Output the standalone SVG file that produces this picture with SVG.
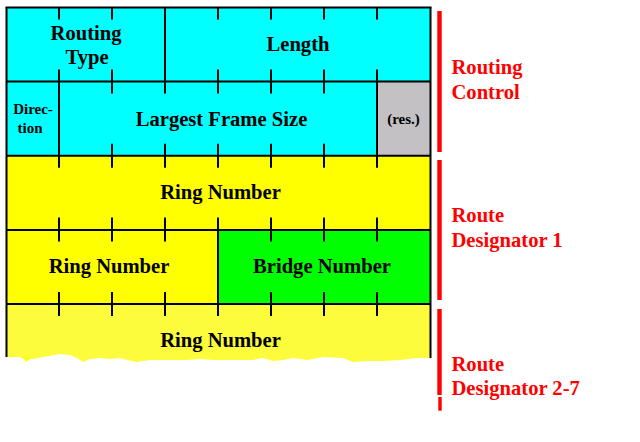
<svg xmlns="http://www.w3.org/2000/svg" width="640" height="442" viewBox="0 0 640 442">
<style>
.t{font-family:"Liberation Serif","Times New Roman",serif;font-weight:bold;font-size:20.6px;fill:#000;text-anchor:middle}
.s{font-size:15px}
.r{fill:#ff0000;text-anchor:start}
.ln{stroke:#000;stroke-width:2;fill:none}
.bar{fill:#ff0000}
</style>
<rect width="640" height="442" fill="#ffffff"/>
<g id="routing-type"><rect x="6.5" y="7.5" width="158.5" height="74" fill="#00ffff"/><text class="t" x="86" y="39.5">Routing</text><text class="t" x="87" y="64.3">Type</text></g>
<g id="length"><rect x="165" y="7.5" width="265.5" height="74" fill="#00ffff"/><text class="t" x="298" y="51">Length</text></g>
<g id="direction"><rect x="6.5" y="81.5" width="52.5" height="74.2" fill="#00ffff"/><text class="t s" x="33" y="114.3">Direc-</text><text class="t s" x="30" y="133.3">tion</text></g>
<g id="largest-frame-size"><rect x="59" y="81.5" width="318" height="74.2" fill="#00ffff"/><text class="t" x="221.5" y="125.7">Largest Frame Size</text></g>
<g id="reserved"><rect x="377" y="81.5" width="53.5" height="74.2" fill="#c3c1c3"/><text class="t s" x="403.5" y="124">(res.)</text></g>
<g id="ring-number-1"><rect x="6.5" y="155.7" width="424" height="74.3" fill="#ffff00"/><text class="t" x="220.5" y="199.3">Ring Number</text></g>
<g id="ring-number-2"><rect x="6.5" y="230" width="211.5" height="74" fill="#ffff00"/><text class="t" x="109" y="272.5">Ring Number</text></g>
<g id="bridge-number"><rect x="218" y="230" width="212.5" height="74" fill="#00ff00"/><text class="t" x="322" y="272.5">Bridge Number</text></g>
<g id="ring-number-3"><path d="M6.5,304 H430.5 V358 L417,358 400,360 383,361 367,361 353,362 343,358 323,357 307,360 300,359 293,358 283,360 273,361 263,358 253,360 233,360 213,360 200,359 187,360 167,360 150,360 137,362 127,360 120,358 110,359 100,358 90,359 83,362 77,358 70,355 60,354 43,357 33,359 20,357 6.5,357 Z" fill="#fcfc3c"/><path d="M20,357 L33,356.7 30,359 26,361.7 24,359 Z" fill="#ffff00"/><text class="t" x="220.5" y="346.7">Ring Number</text></g>
<g id="frame">
<path class="ln" d="M5.5,7.5 H431.5 M6.5,81.5 H430.5 M6.5,155.7 H430.5 M6.5,230 H430.5 M6.5,304 H430.5"/>
<path class="ln" d="M6.5,7.5 V357 M430.5,7.5 V358 M165,7.5 V81.5 M59,81.5 V155.7 M377,81.5 V155.7 M218,230 V304"/>
<path class="ln" d="M59,7.5 V19.5 M112,7.5 V19.5 M218,7.5 V19.5 M271,7.5 V19.5 M324,7.5 V19.5 M377,7.5 V19.5
M59,69.5 V93.5 M112,69.5 V93.5 M165,69.5 V93.5 M218,69.5 V93.5 M271,69.5 V93.5 M324,69.5 V93.5 M377,69.5 V93.5
M59,143.7 V167.7 M112,143.7 V167.7 M165,143.7 V167.7 M218,143.7 V167.7 M271,143.7 V167.7 M324,143.7 V167.7 M377,143.7 V167.7
M59,217.5 V241.5 M112,217.5 V241.5 M165,217.5 V241.5 M218,217.5 V241.5 M271,217.5 V241.5 M324,217.5 V241.5 M377,217.5 V241.5
M59,292 V316 M112,292 V316 M165,292 V316 M218,292 V316 M271,292 V316 M324,292 V316 M377,292 V316"/>
</g>
<g id="connectors">
<rect class="bar" x="437.3" y="11" width="4.4" height="141"/>
<rect class="bar" x="437.3" y="160" width="4.4" height="140"/>
<rect class="bar" x="437.3" y="309" width="4.4" height="86"/>
<rect class="bar" x="438.3" y="397" width="3.4" height="13.7"/>
</g>
<g id="routing-control"><text class="t r" x="451.5" y="74">Routing</text><text class="t r" x="451.5" y="99">Control</text></g>
<g id="route-designator-1"><text class="t r" x="451.5" y="222">Route</text><text class="t r" x="451.5" y="247">Designator 1</text></g>
<g id="route-designator-2-7"><text class="t r" x="451.5" y="370.5">Route</text><text class="t r" x="451.5" y="395.3">Designator 2-7</text></g>
</svg>
